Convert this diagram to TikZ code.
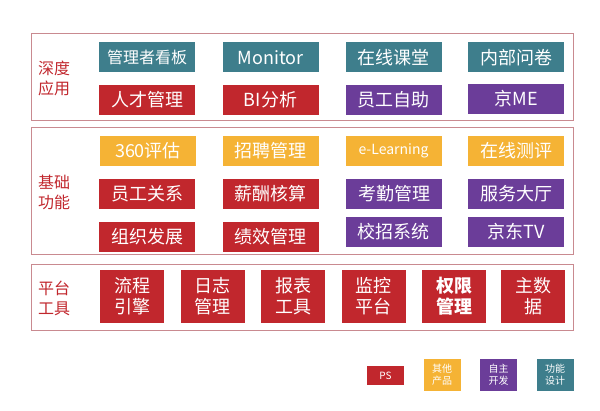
\documentclass[tikz,border=0pt]{standalone}
\usepackage{fontspec}
\setmainfont{Noto Sans CJK SC}
\definecolor{psred}{HTML}{C1272D}
\definecolor{otheryellow}{HTML}{F5B335}
\definecolor{ownpurple}{HTML}{6B3D99}
\definecolor{designteal}{HTML}{3E7E8C}
\definecolor{framepink}{HTML}{C98A90}
\begin{document}
\begin{tikzpicture}[x=1pt,y=-1pt,
    layer/.style={draw=framepink,line width=0.8pt},
    layertitle/.style={text=psred,font=\fontsize{16}{20}\selectfont,align=center},
    tile/.style={minimum width=96pt,minimum height=30pt,inner sep=0pt,text=white,font=\fontsize{18}{21}\selectfont},
    tall/.style={minimum width=64pt,minimum height=53pt,inner sep=0pt,text=white,align=center,font=\fontsize{18}{21}\selectfont},
    key/.style={minimum width=37pt,minimum height=32pt,inner sep=0pt,text=white,align=center,font=\fontsize{10}{12}\selectfont}]
    \useasboundingbox (0,0) rectangle (600,411);
    % the three layers
    \draw[layer] (31,33) rectangle (573,120);
    \draw[layer] (31,127) rectangle (573,254);
    \draw[layer] (31,264) rectangle (573,330);
    \node[layertitle] (deep) at (54,78) {深度\\应用};
    \node[layertitle] (base) at (54,192) {基础\\功能};
    \node[layertitle] (platform) at (54,298) {平台\\工具};
    % deep application
    \node[tile,fill=designteal,font=\fontsize{16}{20}\selectfont] (kanban) at (147,57.5) {管理者看板};
    \node[tile,fill=designteal] (monitor) at (270.5,57.5) {Monitor};
    \node[tile,fill=designteal] (classroom) at (393.5,57.5) {在线课堂};
    \node[tile,fill=designteal] (survey) at (516,57.5) {内部问卷};
    \node[tile,fill=psred] (talent) at (147,100) {人才管理};
    \node[tile,fill=psred] (bi) at (270.5,100) {BI分析};
    \node[tile,fill=ownpurple] (selfhelp) at (393.5,100) {员工自助};
    \node[tile,fill=ownpurple] (jdme) at (516,99) {京ME};
    % basic functions
    \node[tile,fill=otheryellow] (review) at (148,151) {360评估};
    \node[tile,fill=otheryellow] (hiring) at (270.5,151) {招聘管理};
    \node[tile,fill=otheryellow,font=\fontsize{14}{16}\selectfont] (elearn) at (393.5,151) {e-Learning};
    \node[tile,fill=otheryellow] (testing) at (516,151) {在线测评};
    \node[tile,fill=psred] (relation) at (147,194) {员工关系};
    \node[tile,fill=psred] (payroll) at (270.5,194) {薪酬核算};
    \node[tile,fill=ownpurple] (attend) at (394,194) {考勤管理};
    \node[tile,fill=ownpurple] (service) at (516,194) {服务大厅};
    \node[tile,fill=psred] (orgdev) at (147,237) {组织发展};
    \node[tile,fill=psred] (perform) at (270.5,237) {绩效管理};
    \node[tile,fill=ownpurple] (campus) at (393.5,232) {校招系统};
    \node[tile,fill=ownpurple] (jdtv) at (516,232) {京东TV};
    % platform tools
    \node[tall,fill=psred] (flow) at (132,296.5) {流程\\引擎};
    \node[tall,fill=psred] (logs) at (212.5,296.5) {日志\\管理};
    \node[tall,fill=psred] (report) at (293,296.5) {报表\\工具};
    \node[tall,fill=psred] (watch) at (373.5,296.5) {监控\\平台};
    \node[tall,fill=psred,font=\bfseries\fontsize{18}{21}\selectfont] (rights) at (454,296.5) {权限\\管理};
    \node[tall,fill=psred] (master) at (533,296.5) {主数\\据};
    % legend
    \node[key,fill=psred,minimum height=19pt] (keyps) at (385.5,375.5) {PS};
    \node[key,fill=otheryellow] (keyother) at (442,375) {其他\\产品};
    \node[key,fill=ownpurple] (keyown) at (498.5,375) {自主\\开发};
    \node[key,fill=designteal] (keydesign) at (555,375) {功能\\设计};
\end{tikzpicture}
\end{document}
